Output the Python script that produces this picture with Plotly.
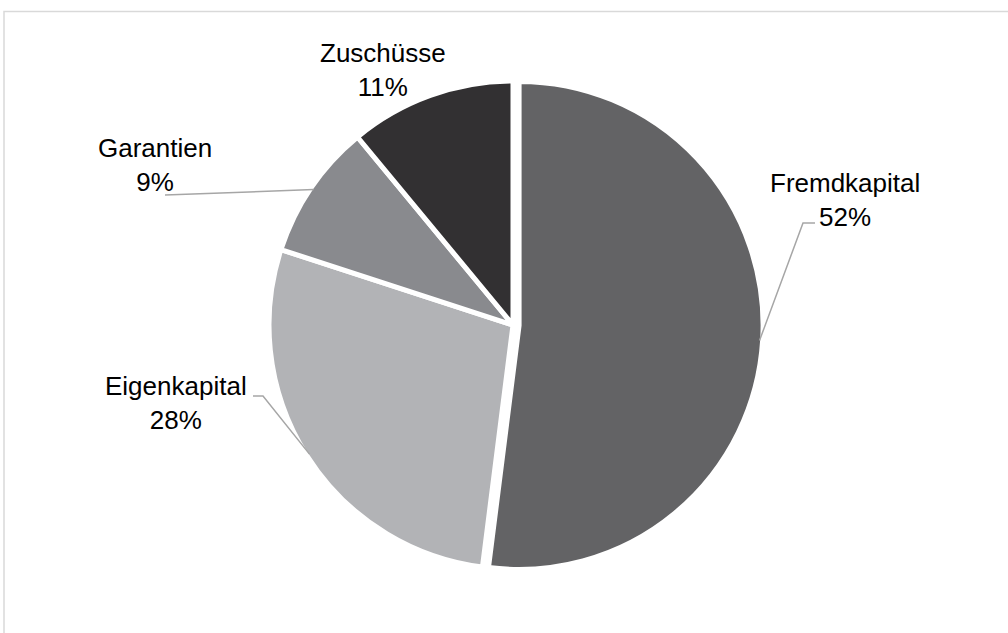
import math
import plotly.graph_objects as go

# ---- data ----
labels = ["Fremdkapital", "Eigenkapital", "Garantien", "Zuschüsse"]
values = [52, 28, 9, 11]
pct_text = ["52%", "28%", "9%", "11%"]

# ---- style / layout ----
W, H = 1008, 633
colors = ["#636365", "#b2b3b6", "#898a8e", "#323032"]
pulls = [0.025, 0, 0, 0]
CX, CY, R = 513, 325, 244          # pie centre / radius in px (plotly shrinks slightly)
R_DRAWN = 241
FONT = dict(family="Liberation Sans, Arial, sans-serif", size=26, color="#000000")

# label centre (px) and leader-line path (elbow/end in px, None = no line)
label_pos = {
    "Fremdkapital": (845, 200),
    "Eigenkapital": (176, 403),
    "Garantien": (155, 165),
    "Zuschüsse": (383, 70),
}
leader_path = {
    "Fremdkapital": [(803, 223), (815, 223)],
    "Eigenkapital": [(263, 396), (253, 396)],
    "Garantien": [(165, 195)],
    "Zuschüsse": None,
}

maxpull = max(pulls)
half = R * (1 + maxpull)
dom_x = [(CX - half) / W, (CX + half) / W]
dom_y = [1 - (CY + half) / H, 1 - (CY - half) / H]

def px(x):
    return x / W

def py(y):
    return 1 - y / H

fig = go.Figure(go.Pie(
    labels=labels,
    values=values,
    sort=False,
    direction="clockwise",
    rotation=0,
    pull=pulls,
    marker=dict(colors=colors, line=dict(color="#ffffff", width=5)),
    textinfo="none",
    hoverinfo="label+percent",
    domain=dict(x=dom_x, y=dom_y),
    showlegend=False,
))

shapes = []
annotations = []
total = sum(values)
cum = 0
for i, (lab, v) in enumerate(zip(labels, values)):
    mid = (cum + v / 2) / total * 2 * math.pi
    cum += v
    ox = CX + pulls[i] * R_DRAWN * math.sin(mid)
    oy = CY - pulls[i] * R_DRAWN * math.cos(mid)
    sx = ox + R_DRAWN * math.sin(mid)
    sy = oy - R_DRAWN * math.cos(mid)
    path = leader_path[lab]
    if path:
        pts = [(sx, sy)] + path
        d = "M " + " L ".join(f"{px(a)},{py(b)}" for a, b in pts)
        shapes.append(dict(type="path", xref="paper", yref="paper", path=d,
                           line=dict(color="#a6a6a6", width=1.5)))
    lx, ly = label_pos[lab]
    annotations.append(dict(
        x=px(lx), y=py(ly), xref="paper", yref="paper",
        text=f"{lab}<br>{pct_text[i]}", showarrow=False,
        xanchor="center", yanchor="middle", align="center", font=FONT,
    ))

# outer chart frame
shapes.append(dict(type="rect", xref="paper", yref="paper",
                   x0=px(4), y0=-0.2, x1=1.2, y1=py(11.5),
                   line=dict(color="#d9d9d9", width=1.5), layer="below"))

fig.update_layout(
    width=W, height=H,
    margin=dict(l=0, r=0, t=0, b=0),
    paper_bgcolor="#ffffff",
    plot_bgcolor="#ffffff",
    shapes=shapes,
    annotations=annotations,
    font=FONT,
)

fig.write_html("out.html")
